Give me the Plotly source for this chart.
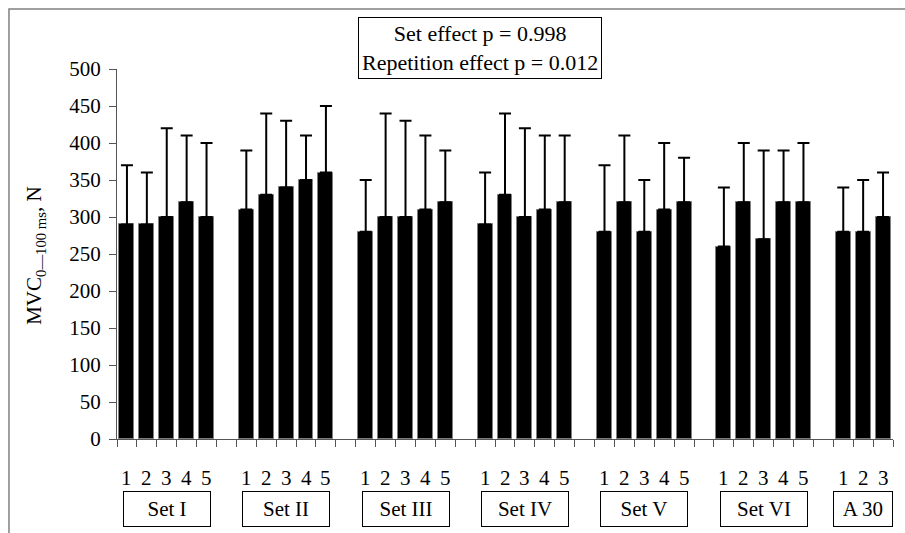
import plotly.graph_objects as go

set_labels = ["Set I", "Set II", "Set III", "Set IV", "Set V", "Set VI", "A 30"]
means = [
    [290, 290, 300, 320, 300],
    [310, 330, 340, 350, 360],
    [280, 300, 300, 310, 320],
    [290, 330, 300, 310, 320],
    [280, 320, 280, 310, 320],
    [260, 320, 270, 320, 320],
    [280, 280, 300],
]
upper = [
    [370, 360, 420, 410, 400],
    [390, 440, 430, 410, 450],
    [350, 440, 430, 410, 390],
    [360, 440, 420, 410, 410],
    [370, 410, 350, 400, 380],
    [340, 400, 390, 390, 400],
    [340, 350, 360],
]
y_ticks = list(range(0, 501, 50))
stats_text = "Set effect p = 0.998<br>Repetition effect p = 0.012"
y_title = "MVC<sub>0\u2014100 ms</sub>, N"

FONT = "Liberation Serif"

xs, ys, errs, rep_labels, set_centers = [], [], [], [], []
slot = 0
for k, (m, u) in enumerate(zip(means, upper)):
    start = slot
    for j, (mv, uv) in enumerate(zip(m, u)):
        xs.append(slot + 0.5)
        ys.append(mv)
        errs.append(uv - mv)
        rep_labels.append((slot + 0.5, str(j + 1)))
        slot += 1
    set_centers.append((start + slot) / 2)
    slot += 1
n_slots = slot - 1  # 39

fig = go.Figure()
fig.add_trace(go.Bar(
    x=xs, y=ys, width=0.75,
    marker=dict(color="black", line=dict(color="#7f7f7f", width=1)),
    error_y=dict(type="data", array=errs, arrayminus=[0] * len(errs),
                 symmetric=False, color="black", thickness=2, width=6),
    showlegend=False, hoverinfo="y",
))

annotations = []
for xv, t in rep_labels:
    annotations.append(dict(x=xv, y=-0.105, xref="x", yref="paper", text=t,
                            showarrow=False, font=dict(family=FONT, size=21, color="black"),
                            xanchor="center", yanchor="middle"))
for c, lab in zip(set_centers, set_labels):
    w = 84 if lab != "A 30" else 56
    annotations.append(dict(x=c, y=-0.189, xref="x", yref="paper", text=lab,
                            showarrow=False, font=dict(family=FONT, size=21, color="black"),
                            xanchor="center", yanchor="middle", width=w, height=32,
                            bordercolor="black", borderwidth=1, borderpad=1,
                            bgcolor="white"))
annotations.append(dict(x=0.468, y=1.057, xref="paper", yref="paper", text=stats_text,
                        showarrow=False, font=dict(family=FONT, size=22, color="black"),
                        xanchor="center", yanchor="middle", align="center",
                        bordercolor="black", borderwidth=1, borderpad=3, bgcolor="white"))
annotations.append(dict(x=-0.1057, y=0.495, xref="paper", yref="paper", text=y_title,
                        showarrow=False, textangle=-90,
                        font=dict(family=FONT, size=21, color="black"),
                        xanchor="center", yanchor="middle"))

fig.update_layout(
    width=905, height=533,
    margin=dict(l=117, r=12, t=69, b=94),
    paper_bgcolor="white", plot_bgcolor="white",
    font=dict(family=FONT, size=21, color="black"),
    annotations=annotations,
    shapes=[dict(type="rect", xref="paper", yref="paper",
                 x0=-0.1392, x1=1.03, y0=-0.3, y1=1.1622,
                 line=dict(color="#808080", width=1.5), fillcolor="rgba(0,0,0,0)",
                 layer="below")],
    xaxis=dict(range=[0, n_slots], tickvals=list(range(0, n_slots + 1)),
               showticklabels=False, ticks="outside", ticklen=7,
               tickcolor="#555555", showline=True, linecolor="#555555", linewidth=1,
               showgrid=False, zeroline=False, fixedrange=True),
    yaxis=dict(range=[0, 500], tickvals=y_ticks, ticks="outside", ticklen=7,
               tickcolor="#555555", showline=True, linecolor="#555555", linewidth=1,
               showgrid=False, zeroline=False, ticklabelstandoff=4,
               tickfont=dict(family=FONT, size=21, color="black")),
    bargap=0,
)

fig.write_html("out.html", config={"displayModeBar": False},
               post_script="document.body.style.margin='0';")
